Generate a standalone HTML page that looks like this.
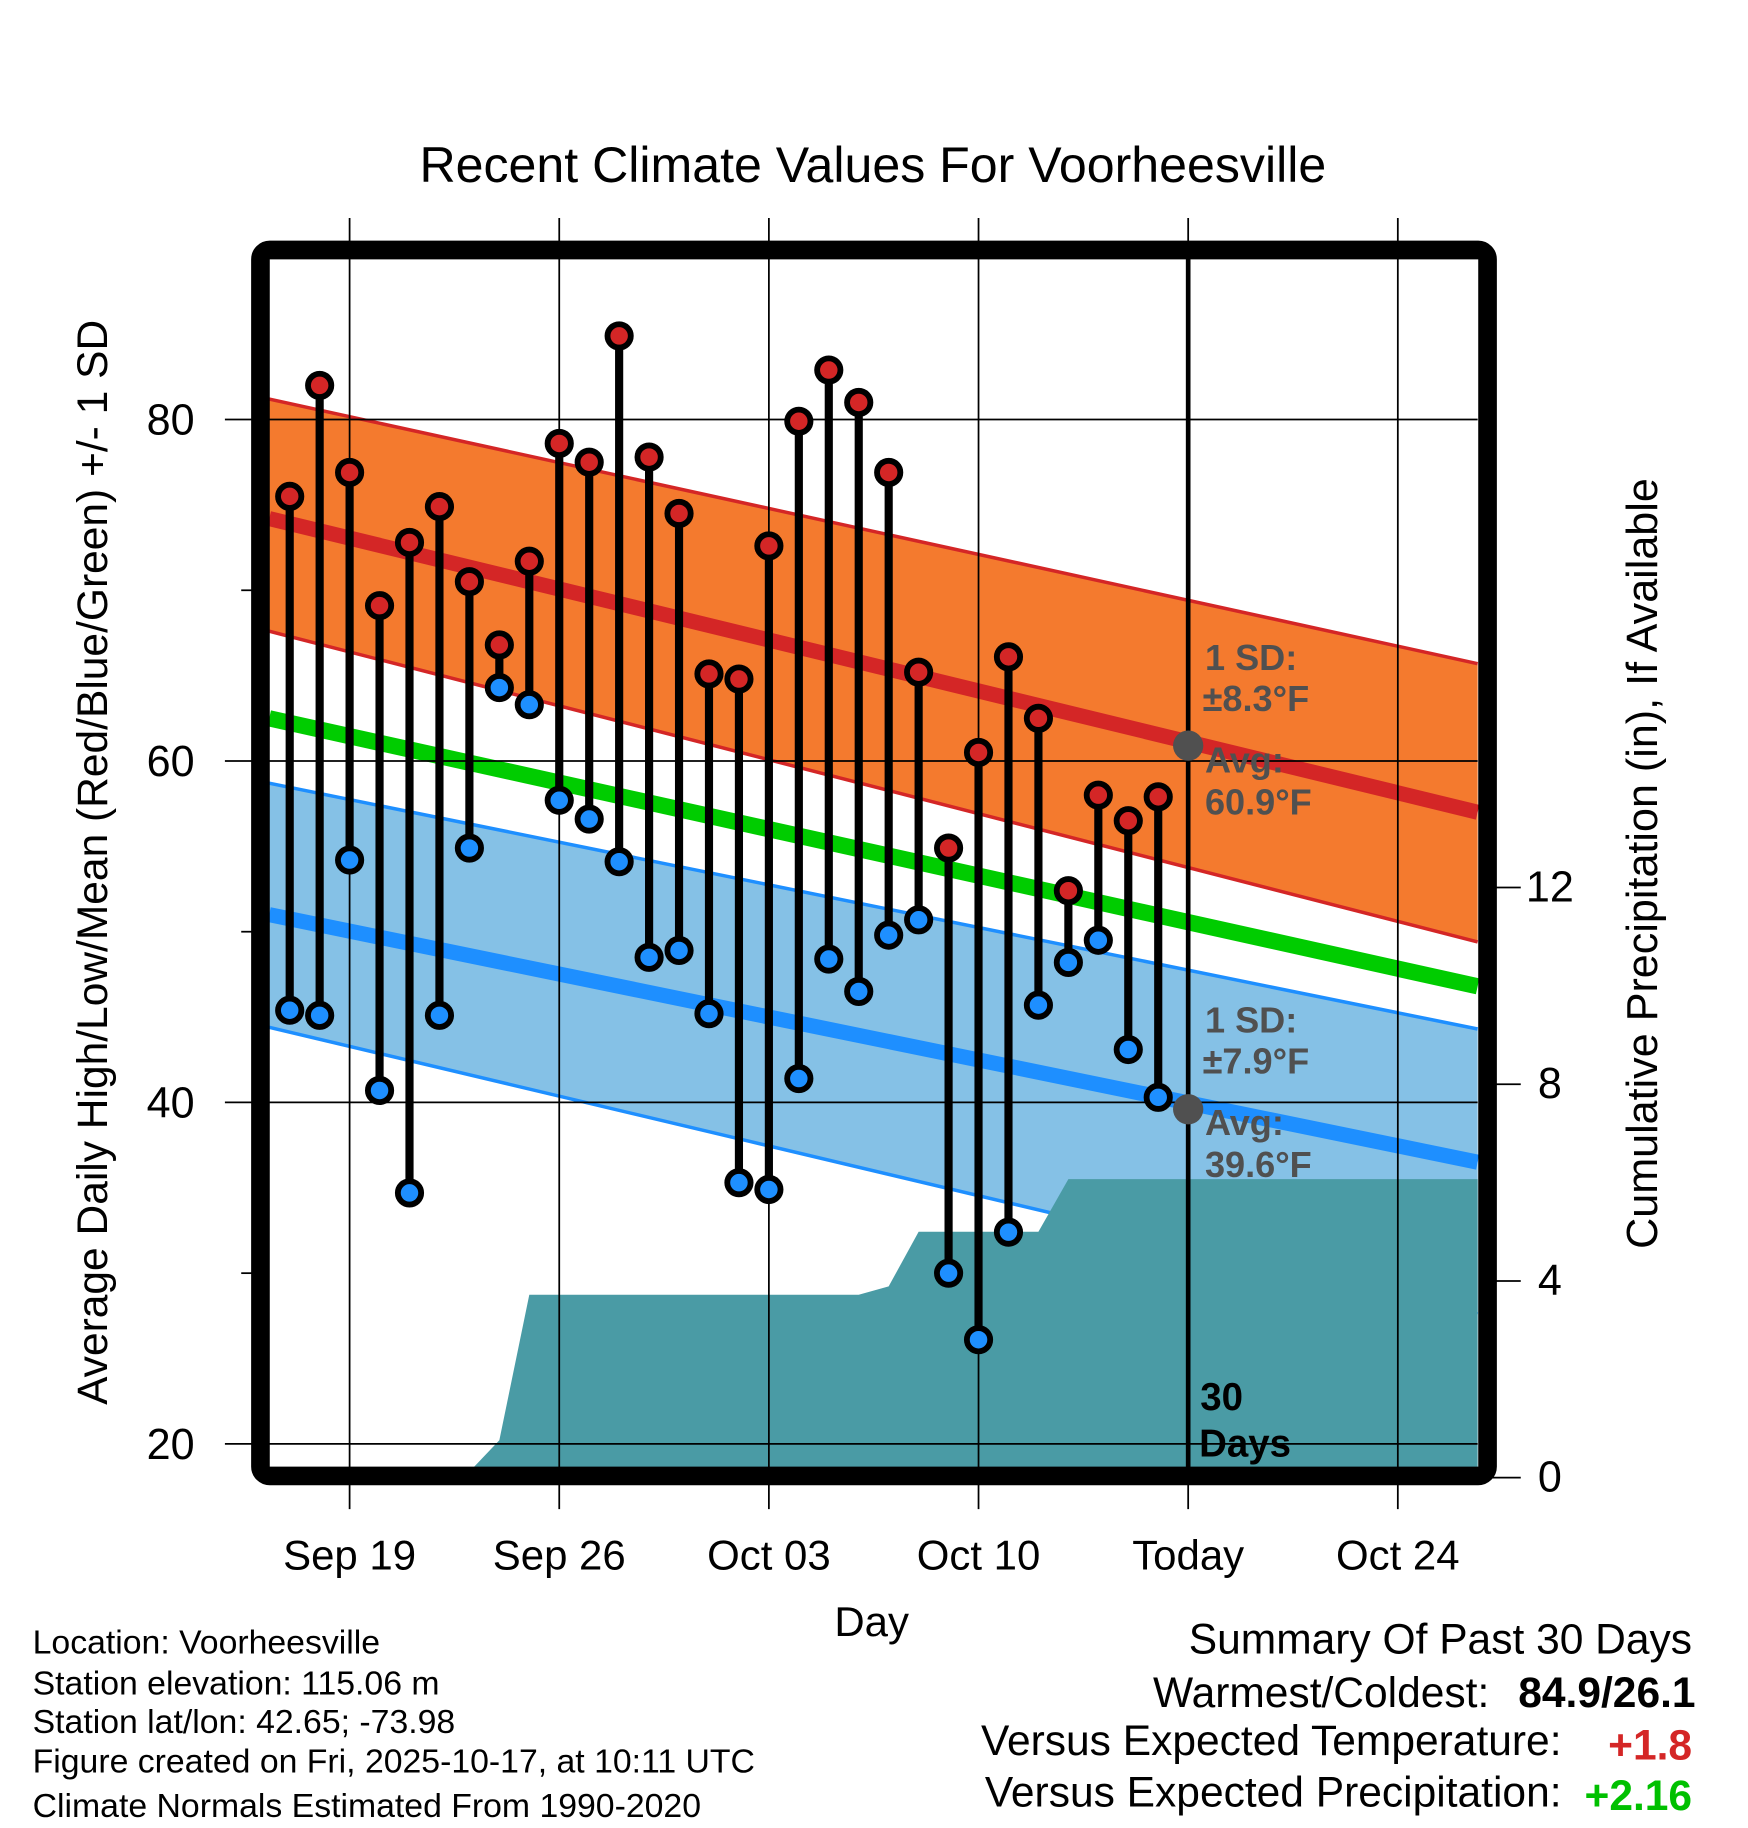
<!DOCTYPE html>
<html><head><meta charset="utf-8"><style>
html,body{margin:0;padding:0;background:#fff;}
svg{display:block;font-family:"Liberation Sans",Arial,sans-serif;}
</style></head><body>
<svg id="chart" width="1748" height="1828" viewBox="0 0 1500 1568.6" xmlns="http://www.w3.org/2000/svg">
<text x="749" y="156" font-size="43" text-anchor="middle">Recent Climate Values For Voorheesville</text>
<g id="bands"></g>
<g id="grid"></g>
<g id="marks"></g>
<g id="frame"></g>
<g id="labels"></g>
</svg>
<script>
const dayLabels = ["Sep 19","Sep 26","Oct 03","Oct 10","Today","Oct 24"];
const dayLabelIdx = [2,9,16,23,30,37];
const yTicks = [20,40,60,80];
const yMinorTicks = [30,50,70];
const precipTicks = [0,4,8,12];
const highs = [75.5,82.0,76.9,69.1,72.8,74.9,70.5,66.8,71.7,78.6,77.5,84.9,77.8,74.5,65.1,64.8,72.6,79.9,82.9,81.0,76.9,65.2,54.9,60.5,66.1,62.5,52.4,58.0,56.5,57.9];
const lows = [45.4,45.1,54.2,40.7,34.7,45.1,54.9,64.3,63.3,57.7,56.6,54.1,48.5,48.9,45.2,35.3,34.9,41.4,48.4,46.5,49.8,50.7,30.0,26.1,32.4,45.7,48.2,49.5,43.1,40.3];
const precip = [0,0,0,0,0,0,0.12,0.76,3.72,3.72,3.72,3.72,3.72,3.72,3.72,3.72,3.72,3.72,3.72,3.72,3.89,5.0,5.0,5.0,5.0,5.0,6.07,6.07,6.07,6.07];
// normals at left edge / right edge of the plot [start, end]
const normHigh = [74.2,57.0];
const normHighUpper = [81.2,65.7];
const normHighLower = [67.6,49.4];
const normMean = [62.5,46.8];
const normLow = [51.0,36.5];
const normLowUpper = [58.7,44.3];
const normLowLower = [44.4,27.6];

const NS="http://www.w3.org/2000/svg";
const L=231,R=1268,T=222,B=1260;
const x=d=>248.6+25.7*d;
const y=t=>360+(80-t)*14.65;
const yp=p=>1268-42.2*p;
function mk(tag,attrs,parent){const e=document.createElementNS(NS,tag);for(const k in attrs)e.setAttribute(k,attrs[k]);(parent||document.getElementById('chart')).appendChild(e);return e;}
const bands=document.getElementById('bands'),grid=document.getElementById('grid'),marks=document.getElementById('marks'),frame=document.getElementById('frame'),labels=document.getElementById('labels');
function band(u,l,fill,stroke,name){
  const p=mk('polygon',{points:`${L},${y(u[0])} ${R},${y(u[1])} ${R},${y(l[1])} ${L},${y(l[0])}`,fill:fill},bands);
  
  
  const a=mk('line',{x1:L,y1:y(u[0]),x2:R,y2:y(u[1]),stroke:stroke,'stroke-width':3},bands);
  
  
  const b=mk('line',{x1:L,y1:y(l[0]),x2:R,y2:y(l[1]),stroke:stroke,'stroke-width':3},bands);
  
  
}
function line(v,stroke,w,name){
  const e=mk('line',{x1:L,y1:y(v[0]),x2:R,y2:y(v[1]),stroke:stroke,'stroke-width':w},bands);
  
  
}
band(normHighUpper,normHighLower,'#F47A2E','#D42626','high-sd-band');
line(normHigh,'#D42626',13,'normal-high-line');
band(normLowUpper,normLowLower,'#85C1E6','#1E8FFF','low-sd-band');
line(normLow,'#1E8FFF',13,'normal-low-line');
line(normMean,'#00CC00',14,'normal-mean-line');
// precipitation area
let pts=`${x(0)},${yp(0)} `;
precip.forEach((p,i)=>{pts+=`${x(i)},${yp(p)} `;});
pts+=`${R},${yp(precip[precip.length-1])} ${R},${B} ${x(0)},${B}`;
const pa=mk('polygon',{points:pts,fill:'#4A9BA5'},bands);


const cl=mk('rect',{x:0,y:T,width:L,height:B-T+20,fill:'#fff'},bands);


// grid
dayLabelIdx.forEach((d,i)=>{
  const g=mk('line',{x1:x(d),y1:187,x2:x(d),y2:1295,stroke:'#000','stroke-width':1.5},grid);
  
  
  const t=mk('text',{x:x(d),y:1347,'font-size':36,'text-anchor':'middle'},labels);
  t.textContent=dayLabels[i];
  
  
});
yTicks.forEach(v=>{
  const g=mk('line',{x1:193,y1:y(v),x2:R,y2:y(v),stroke:'#000','stroke-width':1.5},grid);
  
  
  const t=mk('text',{x:167,y:y(v)+13,'font-size':37,'text-anchor':'end'},labels);
  t.textContent=v;
  
  
});
yMinorTicks.forEach(v=>{
  const g=mk('line',{x1:207,y1:y(v),x2:220,y2:y(v),stroke:'#000','stroke-width':1.5},grid);
  
  
});
precipTicks.forEach(v=>{
  const g=mk('line',{x1:1280,y1:yp(v),x2:1305,y2:yp(v),stroke:'#000','stroke-width':1.5},grid);
  
  
  const t=mk('text',{x:1330,y:yp(v)+12,'font-size':37,'text-anchor':'middle'},labels);
  t.textContent=v;
  
  
});
const tl=mk('line',{x1:x(30),y1:T,x2:x(30),y2:B,stroke:'#000','stroke-width':4},marks);


highs.forEach((h,i)=>{
  const s=mk('line',{x1:x(i),y1:y(h),x2:x(i),y2:y(lows[i]),stroke:'#000','stroke-width':7},marks);
  
  
});
highs.forEach((h,i)=>{
  const c=mk('circle',{cx:x(i),cy:y(h),r:10,fill:'#D42626',stroke:'#000','stroke-width':5},marks);
  
  
  const c2=mk('circle',{cx:x(i),cy:y(lows[i]),r:10,fill:'#1E8FFF',stroke:'#000','stroke-width':5},marks);
  
  
});
const g1=mk('circle',{cx:x(30),cy:y(60.9),r:13,fill:'#505050'},marks);


const g2=mk('circle',{cx:x(30),cy:y(39.6),r:13,fill:'#505050'},marks);


const fr=mk('rect',{x:223.5,y:214.5,width:1053,height:1052,fill:'none',stroke:'#000','stroke-width':16,rx:8},frame);


</script>
<svg style="position:absolute;left:0;top:0" width="1748" height="1828" viewBox="0 0 1500 1568.6" xmlns="http://www.w3.org/2000/svg" font-family="Liberation Sans, Arial, sans-serif">
<g fill="#505050" font-weight="bold" font-size="31">
<text x="1034" y="575">1 SD:</text><text x="1032" y="610">±8.3°F</text>
<text x="1034" y="663">Avg:</text><text x="1034" y="699">60.9°F</text>
<text x="1034" y="886">1 SD:</text><text x="1032" y="921">±7.9°F</text>
<text x="1034" y="974">Avg:</text><text x="1034" y="1010">39.6°F</text>
</g>
<g fill="#000" font-weight="bold" font-size="33">
<text x="1030" y="1210">30</text><text x="1029" y="1250">Days</text>
</g>
<text x="748" y="1404" font-size="36" text-anchor="middle">Day</text>
<text transform="translate(92,740) rotate(-90)" font-size="36.5" text-anchor="middle">Average Daily High/Low/Mean (Red/Blue/Green) +/- 1 SD</text>
<text transform="translate(1422,741) rotate(-90)" font-size="37" text-anchor="middle">Cumulative Precipitation (in), If Available</text>
<g font-size="29" fill="#000">
<text x="28" y="1419">Location: Voorheesville</text>
<text x="28" y="1454">Station elevation: 115.06 m</text>
<text x="28" y="1487">Station lat/lon: 42.65; -73.98</text>
<text x="28" y="1521">Figure created on Fri, 2025-10-17, at 10:11 UTC</text>
<text x="28" y="1559">Climate Normals Estimated From 1990-2020</text>
</g>
<g font-size="36.5" fill="#000">
<text x="1452" y="1419" text-anchor="end">Summary Of Past 30 Days</text>
<text x="1278" y="1465" text-anchor="end">Warmest/Coldest:</text>
<text x="1455" y="1465" text-anchor="end" font-weight="bold">84.9/26.1</text>
<text x="1340" y="1506" text-anchor="end">Versus Expected Temperature:</text>
<text x="1452" y="1510" text-anchor="end" font-weight="bold" fill="#D42626">+1.8</text>
<text x="1340" y="1550" text-anchor="end">Versus Expected Precipitation:</text>
<text x="1452" y="1553" text-anchor="end" font-weight="bold" fill="#00C000">+2.16</text>
</g>
</svg>
</body></html>
